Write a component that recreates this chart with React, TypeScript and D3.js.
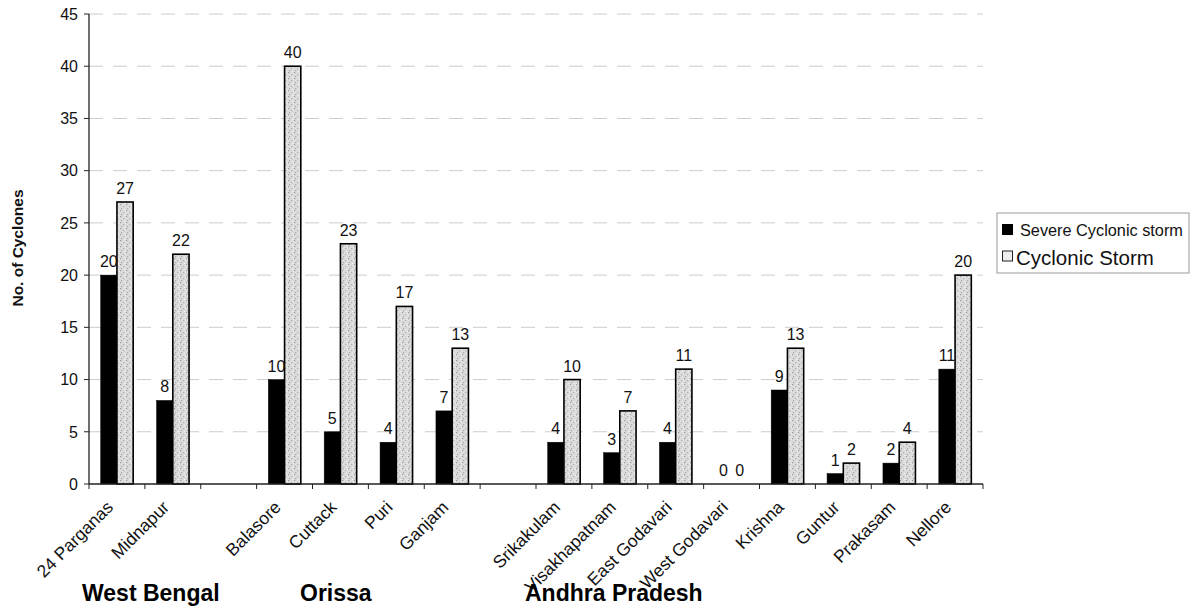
import React from "react";
import * as d3 from "d3";

const districts = ["24 Parganas", "Midnapur", "", "Balasore", "Cuttack", "Puri", "Ganjam", "", "Srikakulam", "Visakhapatnam", "East Godavari", "West Godavari", "Krishna", "Guntur", "Prakasam", "Nellore"];
const severe: (number | null)[] = [20, 8, null, 10, 5, 4, 7, null, 4, 3, 4, 0, 9, 1, 2, 11];
const cyclonic: (number | null)[] = [27, 22, null, 40, 23, 17, 13, null, 10, 7, 11, 0, 13, 2, 4, 20];
const seriesNames = ["Severe Cyclonic storm", "Cyclonic Storm"];
const yTicks = [0, 5, 10, 15, 20, 25, 30, 35, 40, 45];
const states = ["West Bengal", "Orissa", "Andhra Pradesh"];
const stateX = [82, 300, 525];

const W = 1190, H = 610;
const left = 89, right = 983, top = 14, bottom = 484;
const font = "Arial, 'Liberation Sans', Helvetica, sans-serif";

export default function App() {
  const keys = districts.map((d, i) => `${i}`);
  const x = d3.scaleBand<string>().domain(keys).range([left, right]).padding(0);
  const sub = d3.scaleBand<string>().domain(["s", "c"]).range([0, x.bandwidth()]).paddingInner(0).paddingOuter(0.72);
  const y = d3.scaleLinear().domain([0, 45]).range([bottom, top]);

  const bars: JSX.Element[] = [];
  const labels: JSX.Element[] = [];
  districts.forEach((d, i) => {
    const x0 = x(keys[i])!;
    const pairs: [string, number | null][] = [["s", severe[i]], ["c", cyclonic[i]]];
    pairs.forEach(([k, v]) => {
      if (v === null) return;
      const bx = x0 + sub(k)!;
      const bw = sub.bandwidth();
      if (v > 0) {
        bars.push(
          <rect key={`b${i}${k}`} x={bx} y={y(v)} width={bw} height={bottom - y(v)}
            fill={k === "s" ? "#000" : "url(#stipple)"} stroke="#000" strokeWidth={k === "s" ? 0.5 : 1.6} />
        );
      }
      labels.push(
        <text key={`l${i}${k}`} x={bx + bw / 2} y={y(v) - 8} textAnchor="middle" fontSize={16} fontFamily={font} fill="#111">{v}</text>
      );
    });
  });

  return (
    <svg width={W} height={H} style={{ position: "absolute", left: 0, top: 0, background: "#fff" }}>
      <defs>
        <pattern id="stipple" width="6" height="6" patternUnits="userSpaceOnUse">
          <rect width="6" height="6" fill="#dcdcdc" />
          <rect x="0" y="0" width="1.2" height="1.2" fill="#9a9a9a" />
          <rect x="3" y="2" width="1.2" height="1.2" fill="#b0b0b0" />
          <rect x="1" y="4" width="1.2" height="1.2" fill="#a5a5a5" />
          <rect x="4" y="5" width="1" height="1" fill="#f2f2f2" />
          <rect x="5" y="1" width="1" height="1" fill="#f0f0f0" />
        </pattern>
      </defs>
      {/* gridlines */}
      {yTicks.filter(t => t > 0).map(t => (
        <line key={`g${t}`} x1={left} x2={right} y1={y(t)} y2={y(t)} stroke="#cdcdcd" strokeWidth={1} strokeDasharray="14,10" />
      ))}
      {bars}
      {/* axes */}
      <line x1={left} x2={left} y1={top} y2={bottom} stroke="#222" strokeWidth={1.3} />
      <line x1={left} x2={right} y1={bottom} y2={bottom} stroke="#222" strokeWidth={1.3} />
      {yTicks.map(t => (
        <g key={`yt${t}`}>
          <line x1={left - 5} x2={left} y1={y(t)} y2={y(t)} stroke="#222" />
          <text x={left - 11} y={y(t)} dy="0.36em" textAnchor="end" fontSize={16} fontFamily={font} fill="#111">{t}</text>
        </g>
      ))}
      {keys.map((k, i) => (
        <line key={`xt${i}`} x1={x(k)!} x2={x(k)!} y1={bottom} y2={bottom + 5} stroke="#222" />
      ))}
      <line x1={right} x2={right} y1={bottom} y2={bottom + 5} stroke="#222" />
      {labels}
      {/* x labels */}
      {districts.map((d, i) => d ? (
        <text key={`xl${i}`} transform={`translate(${x(keys[i])! + x.bandwidth() / 2 - 7},${bottom + 20}) rotate(-45)`}
          textAnchor="end" dy="0.35em" fontSize={17.5} fontFamily={font} fill="#111">{d}</text>
      ) : null)}
      {/* state labels */}
      {states.map((s, i) => (
        <text key={`st${i}`} x={stateX[i]} y={601} fontSize={23} fontWeight="bold" fontFamily={font} fill="#000">{s}</text>
      ))}
      {/* y title */}
      <text transform="translate(23,248) rotate(-90)" textAnchor="middle" fontSize={15.5} fontWeight="bold" fontFamily={font} fill="#111">No. of Cyclones</text>
      {/* legend */}
      <rect x={997} y={213} width={192} height={60} fill="#fff" stroke="#999" strokeWidth={1} />
      <rect x={1002} y={224} width={11} height={11} fill="#000" />
      <text x={1020} y={236} fontSize={16.3} fontFamily={font} fill="#111">{seriesNames[0]}</text>
      <rect x={1002.5} y={251} width={10} height={10} fill="#eee" stroke="#222" strokeWidth={1} />
      <text x={1016} y={265} fontSize={20.5} fontFamily={font} fill="#111">{seriesNames[1]}</text>
    </svg>
  );
}
